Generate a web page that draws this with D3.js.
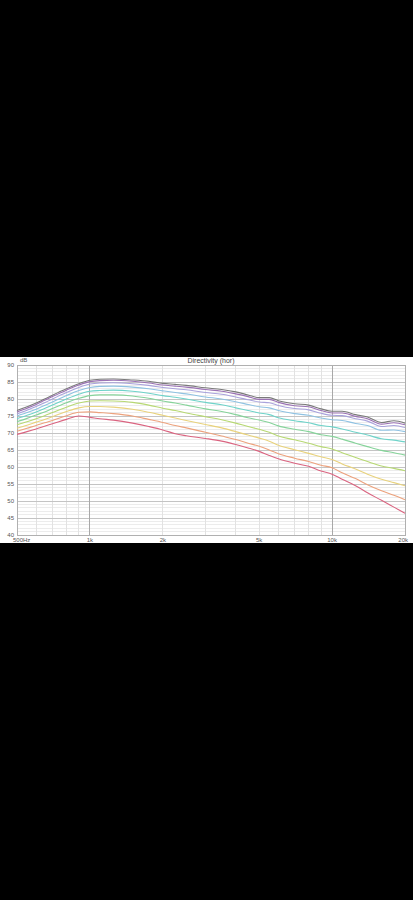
<!DOCTYPE html>
<html><head><meta charset="utf-8">
<script src="https://cdn.jsdelivr.net/npm/d3@7"></script>
<style>html,body{margin:0;padding:0;background:#000;}svg{display:block;}</style>
</head><body>
<script>
const freqs = [500, 550, 600, 650, 700, 800, 900, 1000, 1100, 1250, 1500, 1750, 2000, 2250, 2500, 3000, 3500, 4000, 4500, 5000, 5500, 6000, 7000, 8000, 9000, 10000, 11000, 12500, 14000, 16000, 18000, 20000];
const s0 = [76.6, 77.7, 78.8, 80.0, 81.1, 83.0, 84.5, 85.5, 85.8, 85.9, 85.6, 85.2, 84.6, 84.3, 84.0, 83.3, 82.8, 82.1, 81.2, 80.4, 80.4, 79.5, 78.6, 78.2, 77.1, 76.4, 76.4, 75.4, 74.7, 73.1, 73.6, 72.9];
const s1 = [76.2, 77.3, 78.4, 79.6, 80.7, 82.6, 84.1, 85.1, 85.4, 85.5, 85.2, 84.7, 84.1, 83.8, 83.5, 82.8, 82.3, 81.5, 80.7, 79.9, 79.9, 79.0, 78.0, 77.7, 76.6, 75.9, 75.9, 74.9, 74.2, 72.6, 73.0, 72.4];
const s2 = [75.6, 76.7, 77.8, 78.9, 80.0, 81.9, 83.4, 84.4, 84.7, 84.8, 84.5, 84.0, 83.4, 83.0, 82.7, 81.9, 81.4, 80.6, 79.8, 79.1, 78.9, 78.1, 77.2, 76.8, 75.8, 75.2, 75.1, 74.2, 73.5, 71.9, 72.2, 71.6];
const s3 = [75.0, 76.0, 77.0, 78.1, 79.1, 81.0, 82.5, 83.4, 83.7, 83.8, 83.5, 83.0, 82.4, 81.9, 81.5, 80.6, 80.0, 79.2, 78.4, 77.7, 77.4, 76.6, 75.7, 75.2, 74.4, 73.9, 73.7, 72.8, 72.2, 70.8, 70.9, 70.4];
const s4 = [74.2, 75.2, 76.2, 77.2, 78.2, 80.0, 81.4, 82.3, 82.5, 82.6, 82.3, 81.7, 81.0, 80.5, 80.0, 79.0, 78.3, 77.4, 76.6, 75.9, 75.4, 74.5, 73.6, 73.0, 72.2, 71.8, 71.2, 70.2, 69.4, 68.3, 67.9, 67.4];
const s5 = [73.3, 74.3, 75.3, 76.2, 77.2, 78.9, 80.2, 81.0, 81.2, 81.2, 80.9, 80.2, 79.4, 78.8, 78.2, 77.1, 76.3, 75.4, 74.5, 73.8, 73.1, 72.1, 71.1, 70.4, 69.5, 69.0, 68.2, 67.0, 66.0, 64.9, 64.2, 63.5];
const s6 = [72.4, 73.3, 74.2, 75.1, 76.0, 77.6, 78.8, 79.4, 79.5, 79.4, 79.0, 78.2, 77.3, 76.6, 75.9, 74.8, 73.9, 72.9, 71.9, 71.1, 70.2, 69.1, 68.0, 67.0, 66.0, 65.3, 64.2, 62.8, 61.6, 60.3, 59.6, 58.9];
const s7 = [71.4, 72.3, 73.2, 74.0, 74.8, 76.3, 77.4, 77.8, 77.8, 77.6, 77.0, 76.1, 75.2, 74.4, 73.7, 72.5, 71.5, 70.4, 69.4, 68.5, 67.6, 66.4, 65.1, 64.0, 63.0, 62.2, 60.9, 59.4, 57.9, 56.4, 55.4, 54.5];
const s8 = [70.5, 71.4, 72.2, 73.0, 73.7, 75.1, 76.1, 76.2, 76.0, 75.7, 75.0, 74.0, 73.1, 72.2, 71.5, 70.2, 69.1, 68.1, 67.0, 66.1, 65.0, 63.9, 62.6, 61.6, 60.5, 59.8, 58.3, 56.6, 54.8, 53.0, 51.7, 50.4];
const s9 = [69.6, 70.4, 71.2, 72.0, 72.7, 74.0, 75.0, 74.6, 74.2, 73.8, 72.9, 71.9, 70.9, 69.8, 69.2, 68.4, 67.6, 66.6, 65.6, 64.6, 63.4, 62.4, 61.1, 60.2, 58.8, 57.9, 56.4, 54.5, 52.4, 50.2, 48.2, 46.4];
const seriesValues = [s0, s1, s2, s3, s4, s5, s6, s7, s8, s9];
const seriesColors = ["#7a7a7a", "#9b72b4", "#a9a2dc", "#8fc2e2", "#6fd3c9", "#86d39a", "#b7d873", "#e8d27c", "#eca27d", "#da6480"];
const yTicks = [90, 85, 80, 75, 70, 65, 60, 55, 50, 45, 40];
const xTickValues = [500, 1000, 2000, 5000, 10000, 20000];
const xTickLabels = ["500Hz", "1k", "2k", "5k", "10k", "20k"];
const xMinor = [600, 700, 800, 900, 2000, 3000, 4000, 5000, 6000, 7000, 8000, 9000];
const xMajor = [1000, 10000];
const title = "Directivity (hor)";
const yUnit = "dB";

(function () {
const W = 413, H = 900;
const svg = d3.select("body").append("svg").attr("width", W).attr("height", H);
svg.append("rect").attr("width", W).attr("height", H).attr("fill", "#000");
svg.append("rect").attr("x", 0).attr("y", 357).attr("width", W).attr("height", 186).attr("fill", "#fff");

const pL = 17, pR = 405, pT = 365, pB = 535;
const x = d3.scaleLog().domain([500, 20000]).range([pL, pR]);
const y = d3.scaleLinear().domain([40, 90]).range([pB, pT]);

const g = svg.append("g");
g.selectAll("line.hmin").data(d3.range(40, 91, 1)).enter().append("line")
  .attr("x1", pL).attr("x2", pR).attr("y1", d => y(d)).attr("y2", d => y(d))
  .attr("stroke", "#ececec").attr("stroke-width", 1).attr("shape-rendering", "crispEdges");
g.selectAll("line.vmin").data(xMinor).enter().append("line")
  .attr("x1", d => x(d)).attr("x2", d => x(d)).attr("y1", pT).attr("y2", pB)
  .attr("stroke", "#e2e2e2").attr("stroke-width", 1).attr("shape-rendering", "crispEdges");
g.selectAll("line.hmaj").data(yTicks).enter().append("line")
  .attr("x1", pL).attr("x2", pR).attr("y1", d => y(d)).attr("y2", d => y(d))
  .attr("stroke", "#c4c4c4").attr("stroke-width", 1).attr("shape-rendering", "crispEdges");
g.selectAll("line.vmaj").data(xMajor).enter().append("line")
  .attr("x1", d => x(d)).attr("x2", d => x(d)).attr("y1", pT).attr("y2", pB)
  .attr("stroke", "#a8a8a8").attr("stroke-width", 1).attr("shape-rendering", "crispEdges");
g.append("rect").attr("x", pL).attr("y", pT).attr("width", pR - pL).attr("height", pB - pT)
  .attr("fill", "none").attr("stroke", "#b0b0b0").attr("stroke-width", 1).attr("shape-rendering", "crispEdges");

const line = d3.line().x(d => x(d[0])).y(d => y(d[1])).curve(d3.curveMonotoneX);
seriesValues.forEach((vals, i) => {
  svg.append("path").datum(freqs.map((f, j) => [f, vals[j]]))
    .attr("d", line).attr("fill", "none").attr("stroke", seriesColors[i]).attr("stroke-width", 1.1);
});

const font = "Liberation Sans, Arial, sans-serif";
svg.selectAll("text.yt").data(yTicks).enter().append("text")
  .attr("x", pL - 3).attr("y", d => y(d) + 2).attr("text-anchor", "end")
  .attr("font-family", font).attr("font-size", 6).attr("fill", "#555")
  .text(d => d);
svg.selectAll("text.xt").data(xTickValues).enter().append("text")
  .attr("x", (d, i) => i === 0 ? pL - 4 : (i === xTickValues.length - 1 ? x(d) + 3 : x(d)))
  .attr("y", pB + 6.5)
  .attr("text-anchor", (d, i) => i === 0 ? "start" : (i === xTickValues.length - 1 ? "end" : "middle"))
  .attr("font-family", font).attr("font-size", 6).attr("fill", "#555")
  .text((d, i) => xTickLabels[i]);
svg.append("text").attr("x", pL + 3).attr("y", 362).attr("font-family", font)
  .attr("font-size", 6).attr("fill", "#555").text(yUnit);
svg.append("text").attr("x", (pL + pR) / 2).attr("y", 363).attr("text-anchor", "middle")
  .attr("font-family", font).attr("font-size", 7).attr("fill", "#444").text(title);
})();
</script>
</body></html>
